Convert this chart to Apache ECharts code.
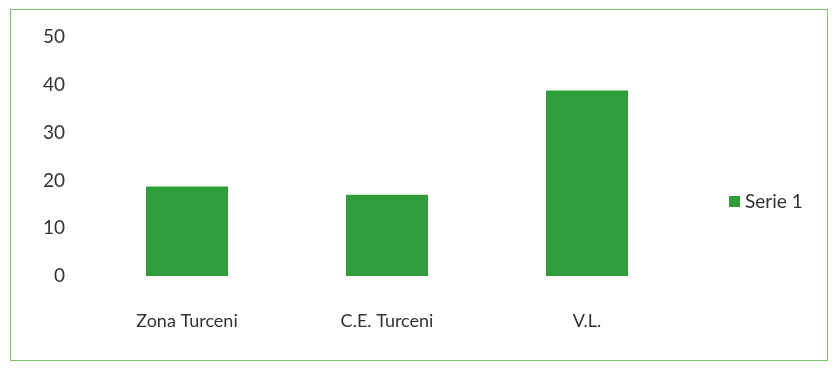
<!DOCTYPE html>
<html><head><meta charset="utf-8">
<script src="https://cdn.jsdelivr.net/npm/echarts@6/dist/echarts.min.js"></script>
<style>
html,body{margin:0;padding:0;background:#fff;}
#frame{position:absolute;left:10px;top:9px;width:818px;height:352px;border:1.5px solid #7cc46a;box-sizing:border-box;}
#c{position:absolute;left:0;top:0;width:834px;height:371px;}
</style></head>
<body><div id="frame"></div><div id="c"></div>
<script>
const categories = ['Zona Turceni', 'C.E. Turceni', 'V.L.'];
const serie1 = [18.7, 17, 38.8];
const seriesName = 'Serie 1';
const yTicks = [0, 10, 20, 30, 40, 50];

const chart = echarts.init(document.getElementById('c'), null, {renderer: 'canvas'});
const font = 'Lato, "Open Sans", sans-serif';
chart.setOption({
  animation: false,
  backgroundColor: 'transparent',
  grid: {left: 87, right: 147, top: 37, bottom: 95},
  legend: {
    data: [seriesName], orient: 'vertical', left: 724, top: 187,
    itemWidth: 11, itemHeight: 11, itemGap: 5, icon: 'rect',
    textStyle: {fontFamily: font, fontSize: 19, color: '#333'}
  },
  xAxis: {
    type: 'category', data: categories,
    axisLine: {show: false}, axisTick: {show: false},
    axisLabel: {margin: 36, fontFamily: font, fontSize: 18, color: '#333'}
  },
  yAxis: {
    type: 'value', min: yTicks[0], max: yTicks[yTicks.length - 1], interval: 10,
    splitLine: {show: false}, axisLine: {show: false}, axisTick: {show: false},
    axisLabel: {margin: 22, fontFamily: font, fontSize: 19, color: '#333'}
  },
  series: [{
    name: seriesName, type: 'bar', data: serie1, barWidth: 82,
    itemStyle: {color: '#2f9d3a'}
  }]
});
</script></body></html>
